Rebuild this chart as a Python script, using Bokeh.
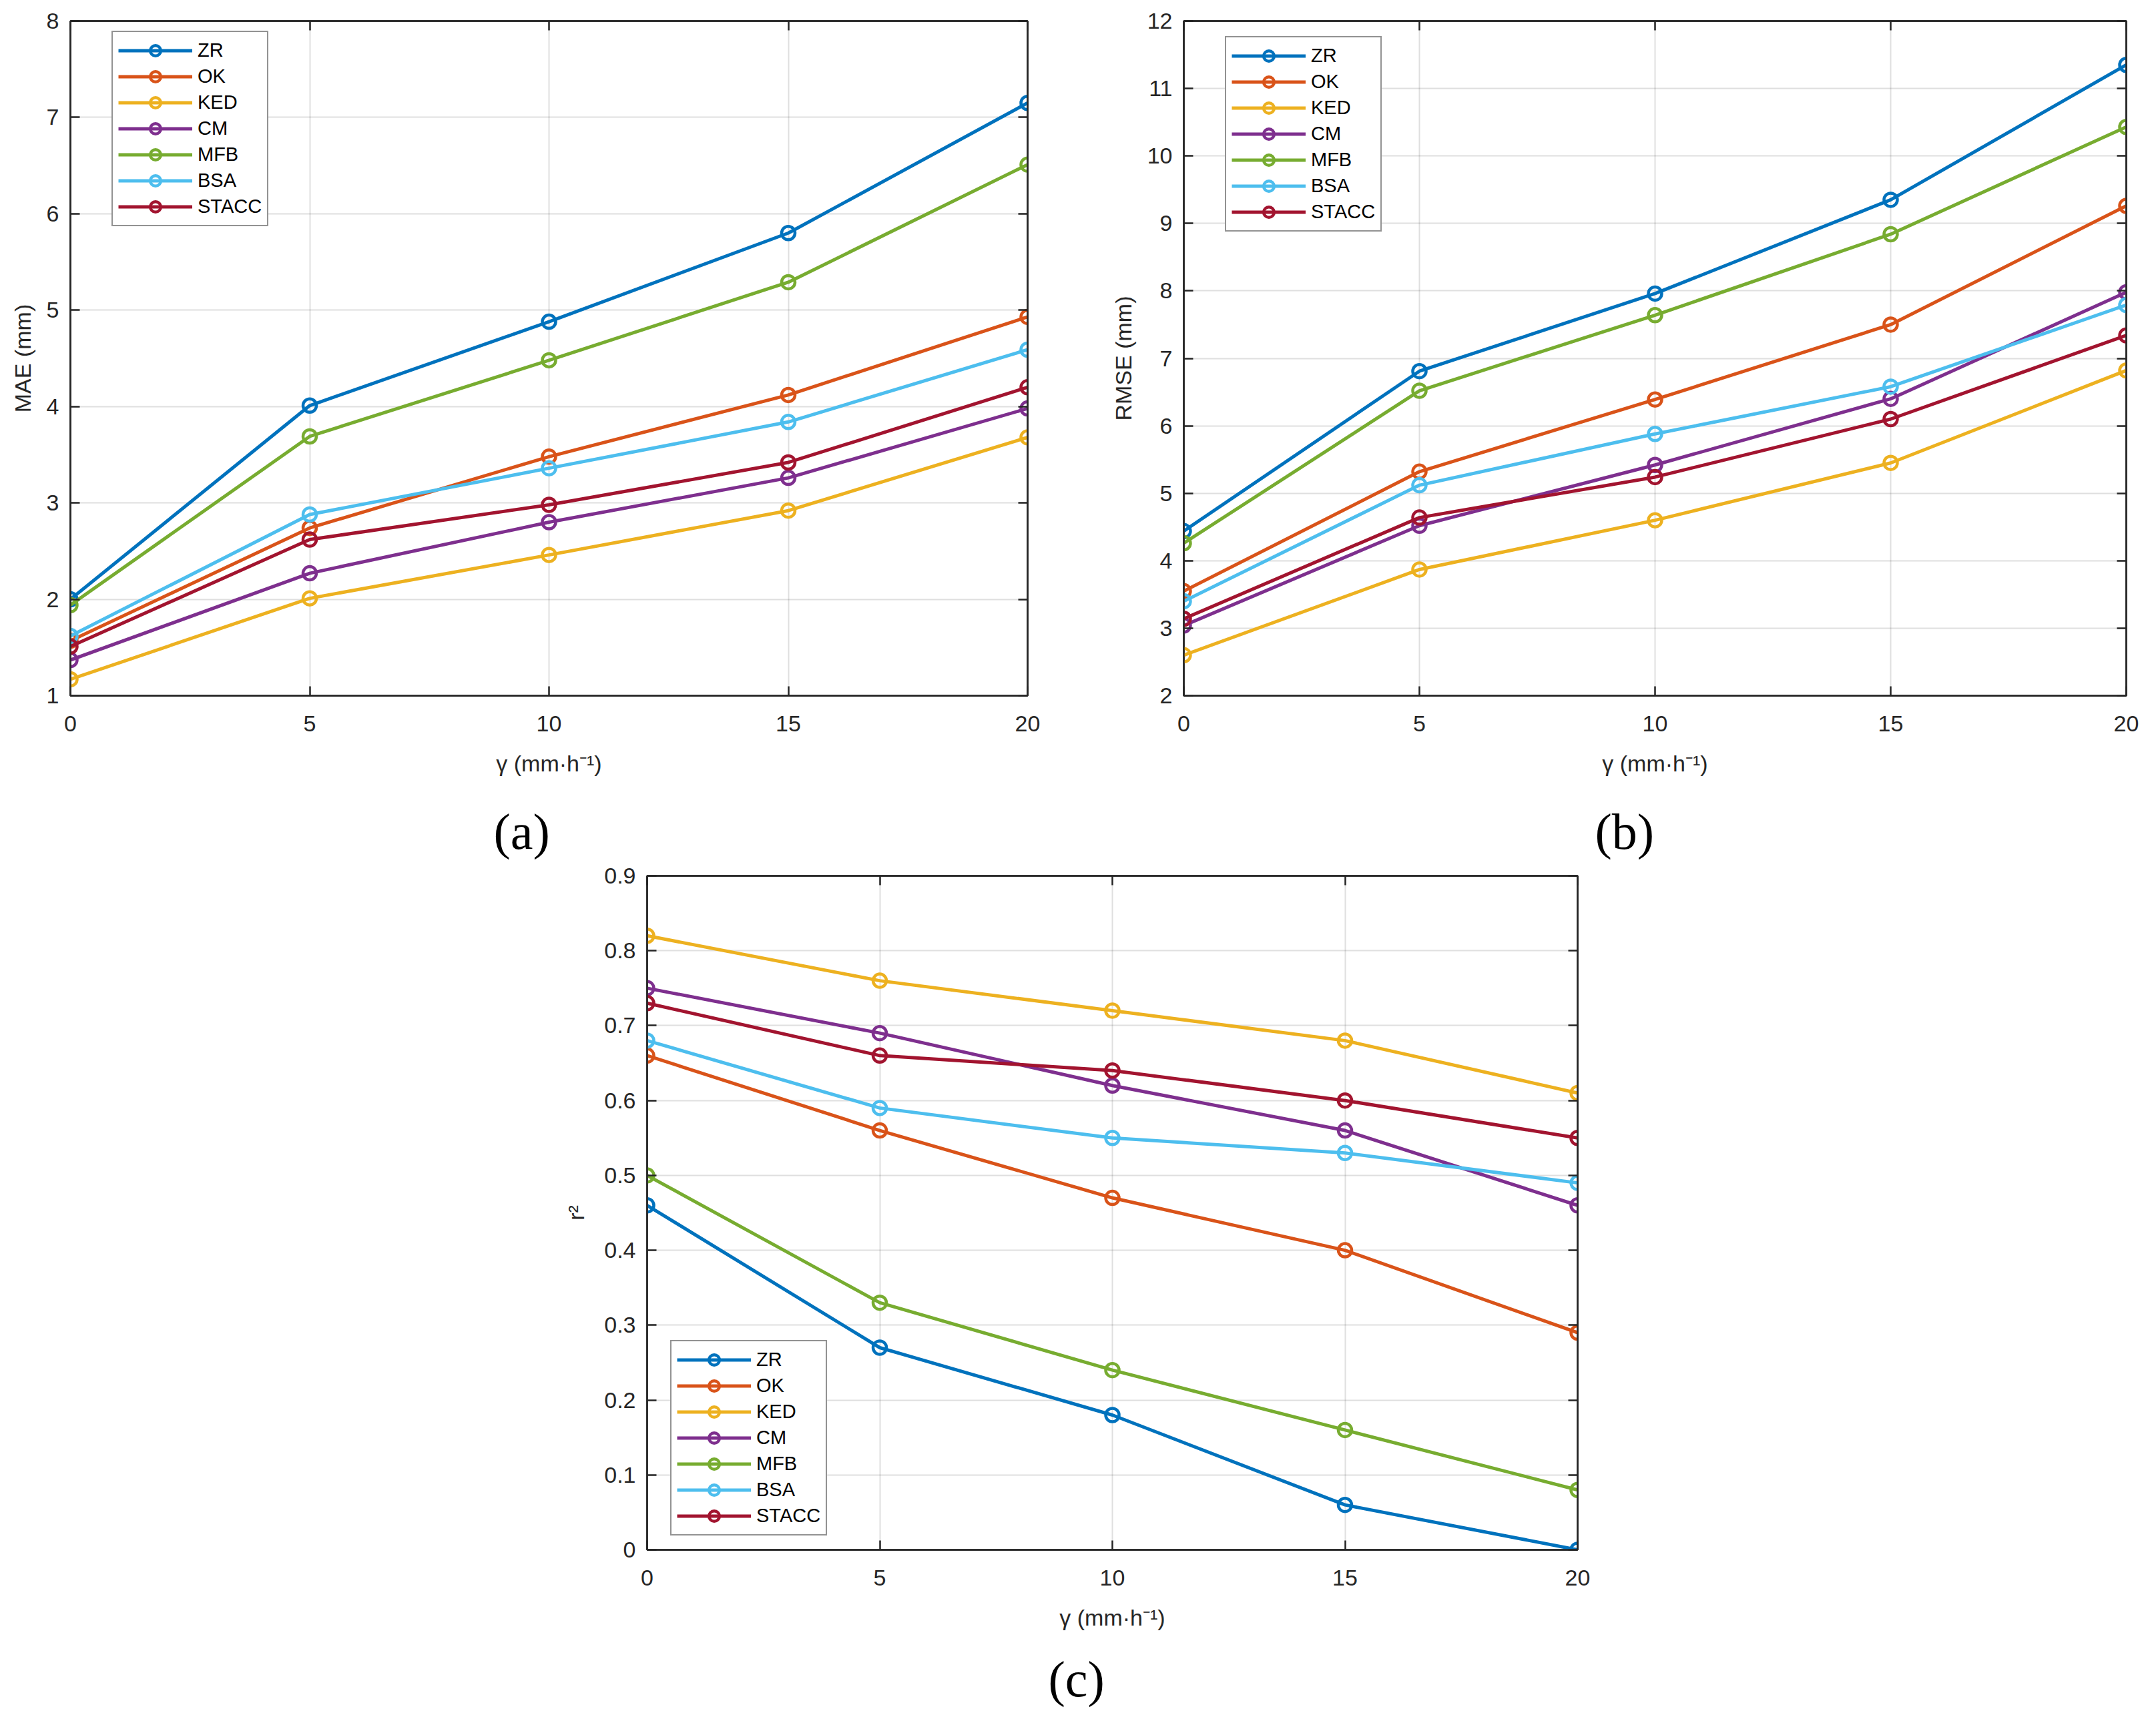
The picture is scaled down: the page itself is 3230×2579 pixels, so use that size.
from bokeh.embed import file_html
from bokeh.layouts import column, row
from bokeh.models import (FixedTicker, Label, Legend, LegendItem, LinearAxis,
                          NumeralTickFormatter, Range1d)
from bokeh.plotting import figure
from bokeh.resources import INLINE

# rain intensity threshold (x axis)
gamma = [0, 5, 10, 15, 20]
methods = ["ZR", "OK", "KED", "CM", "MFB", "BSA", "STACC"]
colors = ["#0072BD", "#D95319", "#EDB120", "#7E2F8E", "#77AC30", "#4DBEEE", "#A2142F"]

mae = {
    "ZR":    [2.00, 4.01, 4.88, 5.80, 7.15],
    "OK":    [1.57, 2.74, 3.48, 4.12, 4.93],
    "KED":   [1.17, 2.01, 2.46, 2.92, 3.68],
    "CM":    [1.37, 2.27, 2.80, 3.26, 3.98],
    "MFB":   [1.94, 3.69, 4.48, 5.29, 6.51],
    "BSA":   [1.62, 2.88, 3.36, 3.84, 4.59],
    "STACC": [1.51, 2.62, 2.98, 3.42, 4.20],
}
rmse = {
    "ZR":    [4.44, 6.81, 7.96, 9.35, 11.35],
    "OK":    [3.55, 5.32, 6.39, 7.50, 9.26],
    "KED":   [2.60, 3.87, 4.60, 5.45, 6.82],
    "CM":    [3.04, 4.52, 5.42, 6.40, 7.98],
    "MFB":   [4.26, 6.52, 7.64, 8.84, 10.43],
    "BSA":   [3.40, 5.12, 5.88, 6.58, 7.79],
    "STACC": [3.14, 4.64, 5.24, 6.10, 7.34],
}
r2 = {
    "ZR":    [0.46, 0.27, 0.18, 0.06, 0.00],
    "OK":    [0.66, 0.56, 0.47, 0.40, 0.29],
    "KED":   [0.82, 0.76, 0.72, 0.68, 0.61],
    "CM":    [0.75, 0.69, 0.62, 0.56, 0.46],
    "MFB":   [0.50, 0.33, 0.24, 0.16, 0.08],
    "BSA":   [0.68, 0.59, 0.55, 0.53, 0.49],
    "STACC": [0.73, 0.66, 0.64, 0.60, 0.55],
}

mae_ticks = [1, 2, 3, 4, 5, 6, 7, 8]
rmse_ticks = [2, 3, 4, 5, 6, 7, 8, 9, 10, 11, 12]
r2_ticks = [0, 0.1, 0.2, 0.3, 0.4, 0.5, 0.6, 0.7, 0.8, 0.9]

INK = "#262626"
SANS = "Liberation Sans"


def style_axis(axis, labels=True):
    axis.axis_line_color = INK
    axis.axis_line_width = 2.5
    axis.major_tick_line_color = INK
    axis.major_tick_line_width = 2.5
    axis.major_tick_in = 14
    axis.major_tick_out = 0
    axis.minor_tick_line_color = None
    axis.major_label_text_font = SANS
    axis.major_label_text_font_size = "34px"
    axis.major_label_text_color = INK if labels else None
    axis.axis_label_text_font = SANS
    axis.axis_label_text_font_size = "34px"
    axis.axis_label_text_font_style = "normal"
    axis.axis_label_text_color = INK


def make_panel(values, ylabel, ylim, yticks, legend_xy,
               left, right, top, bottom, fw, fh, ylabel_gap=14, yfmt=None):
    p = figure(frame_width=fw, frame_height=fh, output_backend="svg",
               toolbar_location=None, x_range=Range1d(0, 20),
               y_range=Range1d(*ylim), min_border_left=left,
               min_border_right=right, min_border_top=top,
               min_border_bottom=bottom)
    p.background_fill_color = "white"
    p.border_fill_color = "white"
    p.outline_line_color = INK
    p.outline_line_width = 2.5

    p.xaxis.ticker = FixedTicker(ticks=gamma)
    p.yaxis.ticker = FixedTicker(ticks=yticks)
    if yfmt:
        p.yaxis.formatter = yfmt
    p.xaxis.axis_label = "γ (mm·h⁻¹)"
    p.yaxis.axis_label = ylabel
    style_axis(p.xaxis[0])
    style_axis(p.yaxis[0])
    p.xaxis.major_label_standoff = 30
    p.xaxis.axis_label_standoff = 26
    p.yaxis.major_label_standoff = 17
    p.yaxis.axis_label_standoff = ylabel_gap

    # box ticks on top and right, like the original
    top_ax = LinearAxis(ticker=FixedTicker(ticks=gamma), major_label_standoff=0)
    right_ax = LinearAxis(ticker=FixedTicker(ticks=yticks), major_label_standoff=0)
    style_axis(top_ax, labels=False)
    style_axis(right_ax, labels=False)
    p.add_layout(top_ax, "above")
    p.add_layout(right_ax, "right")

    p.xgrid.ticker = FixedTicker(ticks=gamma)
    p.ygrid.ticker = FixedTicker(ticks=yticks)
    p.grid.grid_line_color = INK
    p.grid.grid_line_alpha = 0.15
    p.grid.grid_line_width = 2

    items = []
    for name, color in zip(methods, colors):
        ln = p.line(gamma, values[name], line_color=color, line_width=5)
        sc = p.scatter(gamma, values[name], marker="circle", size=20,
                       line_color=color, line_width=4.5, fill_color=None)
        items.append(LegendItem(label=name, renderers=[ln, sc]))

    legend = Legend(items=items, location=legend_xy)
    legend.border_line_color = INK
    legend.border_line_width = 2.5
    legend.background_fill_color = "white"
    legend.background_fill_alpha = 1
    legend.label_text_font = SANS
    legend.label_text_font_size = "29px"
    legend.label_text_color = "black"
    legend.glyph_width = 111
    legend.glyph_height = 39
    legend.label_height = 39
    legend.spacing = 0
    legend.padding = 8
    legend.label_standoff = 8
    legend.margin = 0
    p.add_layout(legend)
    return p


def caption_strip(width, height, captions):
    # blank strip that only carries the sub-figure captions "(a)" etc.
    s = figure(width=width, height=height, min_border=0, output_backend="svg",
               toolbar_location=None, x_range=Range1d(0, width),
               y_range=Range1d(0, height), x_axis_location=None,
               y_axis_location=None)
    s.outline_line_color = None
    s.grid.visible = False
    s.background_fill_color = "white"
    s.border_fill_color = "white"
    for text, left, base in captions:
        s.add_layout(Label(x=left, y=base, text=text,
                           text_font="Liberation Serif", text_font_size="76px",
                           text_color="black", text_align="left",
                           text_baseline="alphabetic"))
    # wrapped in a row so the column does not align its frame with panel (c)
    return row(s)


pa = make_panel(mae, "MAE (mm)", (1, 8), mae_ticks, (62, 703),
                left=105, right=68, top=31, bottom=140, fw=1434, fh=1011)
pb = make_panel(rmse, "RMSE (mm)", (2, 12), rmse_ticks, (62, 695),
                left=166, right=30, top=31, bottom=140, fw=1412, fh=1011)
pc = make_panel(r2, "r²", (0, 0.9), r2_ticks, (35, 21),
                left=969, right=30, top=22, bottom=140, fw=1394, fh=1010,
                ylabel_gap=20, yfmt=NumeralTickFormatter(format="0.[0]"))

strip_ab = caption_strip(3200, 108, [("(a)", 739, 45), ("(b)", 2389, 45)])
strip_c = caption_strip(2400, 102, [("(c)", 1570, 49)])

page = column(row(pa, pb), strip_ab, row(pc), strip_c)
open("out.html", "w").write(file_html(page, INLINE))
